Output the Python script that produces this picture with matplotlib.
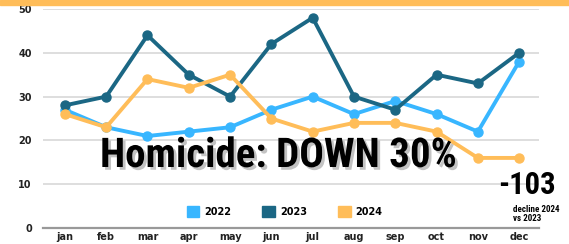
import matplotlib
matplotlib.use("Agg")
import matplotlib.pyplot as plt
import matplotlib.patheffects as pe
from matplotlib import font_manager
from matplotlib.patches import Patch

# ---------------- DATA ----------------
months = ["jan", "feb", "mar", "apr", "may", "jun",
          "jul", "aug", "sep", "oct", "nov", "dec"]
homicides_2022 = [27, 23, 21, 22, 23, 27, 30, 26, 29, 26, 22, 38]
homicides_2023 = [28, 30, 44, 35, 30, 42, 48, 30, 27, 35, 33, 40]
homicides_2024 = [26, 23, 34, 32, 35, 25, 22, 24, 24, 22, 16, 16]
yticks = [0, 10, 20, 30, 40, 50]

c2022 = "#38B6FF"
c2023 = "#1B6784"
c2024 = "#FFBD59"

# condensed font for the headline, if present
names = {f.name for f in font_manager.fontManager.ttflist}
headline_font = "DejaVu Sans"
for cand in ["Liberation Sans Narrow", "DejaVu Sans Condensed", "Roboto Condensed"]:
    if cand in names:
        headline_font = cand
        break

fig = plt.figure(figsize=(5.69, 2.44), dpi=100)
ax = fig.add_axes([43 / 569, 1 - 228 / 244, 496 / 569, 219 / 244])

x = list(range(len(months)))
for vals, col, z in [(homicides_2022, c2022, 3),
                     (homicides_2023, c2023, 4),
                     (homicides_2024, c2024, 5)]:
    ax.plot(x, vals, color=col, lw=2.8, marker="o", ms=6.5,
            solid_capstyle="round", zorder=z)

ax.set_xlim(-0.53, 11.48)
ax.set_ylim(0, 50)
ax.set_yticks(yticks)
ax.set_xticks(x)
ax.set_xticklabels(months)
for y in yticks[1:]:
    ax.axhline(y, color="#d4d4d4", lw=1.1, zorder=1)
ax.axhline(0, color="#999999", lw=1.6, zorder=1, clip_on=False)

for s in ax.spines.values():
    s.set_visible(False)
ax.tick_params(length=0, labelsize=7, colors="#222222")
for lab in ax.get_xticklabels() + ax.get_yticklabels():
    lab.set_fontweight("bold")
ax.tick_params(axis="y", pad=8)
ax.tick_params(axis="x", pad=3)

# legend
handles = [Patch(color=c2022, label="2022"),
           Patch(color=c2023, label="2023"),
           Patch(color=c2024, label="2024")]
leg = ax.legend(handles=handles, ncol=3, frameon=False,
                loc="center", bbox_to_anchor=(0.487, 0.075),
                prop={"weight": "bold", "size": 7},
                handlelength=1.3, handleheight=1.3, columnspacing=3.2,
                handletextpad=0.5)

# top band
fig.patches.append(plt.Rectangle((0, 1 - 5 / 244), 1, 5 / 244,
                                 transform=fig.transFigure,
                                 color=c2024, zorder=10))

# headline
fig.text(100 / 569, 1 - 167 / 244, "Homicide: DOWN 30%",
         fontsize=29.5, fontweight="bold", family=headline_font,
         color="black", ha="left", va="baseline", zorder=20,
         path_effects=[pe.SimplePatchShadow(offset=(2, -2), shadow_rgbFace="#888888",
                                            alpha=0.5), pe.Normal()])

fig.text(556 / 569, 1 - 194 / 244, "-103", fontsize=22, fontweight="bold",
         family=headline_font, color="black", ha="right", va="baseline",
         zorder=20)
fig.text(513 / 569, 1 - 212 / 244, "decline 2024", fontsize=6.5,
         fontweight="bold", family=headline_font, color="black",
         ha="left", va="baseline", zorder=20)
fig.text(513 / 569, 1 - 221 / 244, "vs 2023", fontsize=6.5,
         fontweight="bold", family=headline_font, color="black",
         ha="left", va="baseline", zorder=20)

fig.savefig("out.png", dpi=100)
